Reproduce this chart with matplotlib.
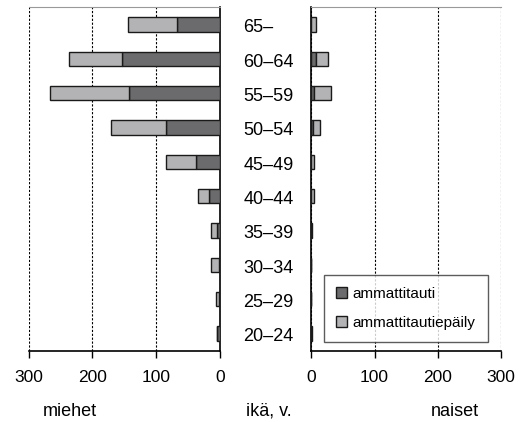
import matplotlib
matplotlib.use('Agg')
import matplotlib.pyplot as plt
from matplotlib.patches import Patch
from matplotlib.transforms import blended_transform_factory

plt.rcParams['font.family'] = ['Liberation Sans', 'DejaVu Sans']

# age groups, bottom to top
ages = ['20–24', '25–29', '30–34', '35–39', '40–44', '45–49', '50–54', '55–59', '60–64', '65–']

# men
men_confirmed = [5, 1, 2, 5, 18, 37, 85, 142, 153, 68]
men_suspected = [0, 6, 12, 9, 17, 47, 86, 124, 84, 77]

# women
women_confirmed = [0, 0, 0, 0, 0, 0, 2, 4, 8, 0]
women_suspected = [1, 0, 0, 1, 5, 5, 11, 27, 19, 8]

dark = '#6b6b6d'
light = '#b3b3b5'
ticks = [0, 100, 200, 300]

fig = plt.figure(figsize=(5.27, 4.22), dpi=100)
ax1 = fig.add_axes([0.0545, 0.169, 0.363, 0.8137])
ax2 = fig.add_axes([0.5907, 0.169, 0.360, 0.8137])

y = list(range(len(ages)))
h = 0.41

ax1.barh(y, men_confirmed, height=h, color=dark, edgecolor='#1a1a1a', linewidth=1, zorder=3)
ax1.barh(y, men_suspected, left=men_confirmed, height=h, color=light, edgecolor='#1a1a1a', linewidth=1, zorder=3)
ax1.set_xlim(300, 0)

ax2.barh(y, women_confirmed, height=h, color=dark, edgecolor='#1a1a1a', linewidth=1, zorder=3)
ax2.barh(y, women_suspected, left=women_confirmed, height=h, color=light, edgecolor='#1a1a1a', linewidth=1, zorder=3)
ax2.set_xlim(0, 300)

for ax in (ax1, ax2):
    ax.set_ylim(-0.5, 9.5)
    ax.set_yticks([])
    ax.set_xticks(ticks)
    ax.tick_params(axis='x', direction='out', length=5, width=1, pad=9, labelsize=12.5)
    ax.xaxis.grid(True, linestyle=(0, (2, 1.5)), color='black', linewidth=0.8, zorder=1)
    ax.spines['top'].set_color('#999999')
    ax.spines['bottom'].set_linewidth(1.2)

ax1.spines['left'].set_visible(False)
ax1.spines['right'].set_linewidth(1.2)
ax2.spines['right'].set_visible(False)
ax2.spines['left'].set_linewidth(1.2)

# age labels between the panels
tr = blended_transform_factory(fig.transFigure, ax1.transData)
for i, a in enumerate(ages):
    ax1.text(243.3 / 527, i - 0.1, a, transform=tr, ha='left', va='center', fontsize=13)

handles = [Patch(facecolor=dark, edgecolor='#1a1a1a', label='ammattitauti'),
           Patch(facecolor=light, edgecolor='#1a1a1a', label='ammattitautiepäily')]
leg = ax2.legend(handles=handles, loc='lower right', bbox_to_anchor=(0.931, 0.026),
                 borderaxespad=0, fontsize=11, frameon=True, fancybox=False,
                 handlelength=0.7, handleheight=0.7, handletextpad=0.4,
                 labelspacing=0.95, borderpad=0.8)
leg.get_frame().set_edgecolor('#333333')
leg.get_frame().set_linewidth(1)

fig.text(70 / 527, 1 - 411 / 422, 'miehet', ha='center', va='center', fontsize=13)
fig.text(269 / 527, 1 - 411 / 422, 'ikä, v.', ha='center', va='center', fontsize=13)
fig.text(455 / 527, 1 - 411 / 422, 'naiset', ha='center', va='center', fontsize=13)

fig.savefig('out.png', dpi=100)
